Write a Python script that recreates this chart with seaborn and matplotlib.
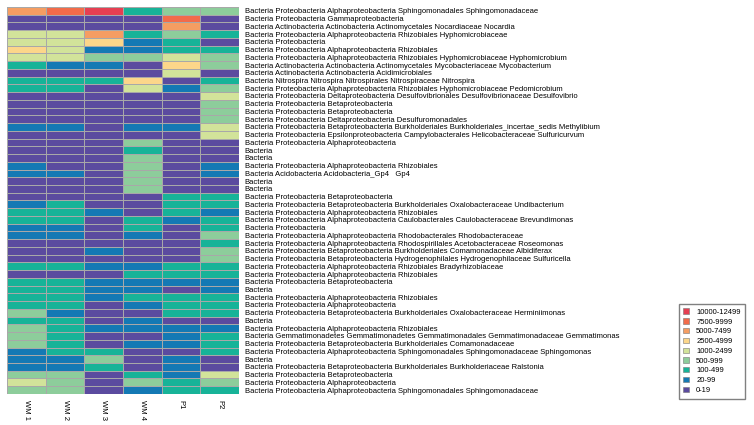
import numpy as np
import pandas as pd
import seaborn as sns
from matplotlib import pyplot as plt
from matplotlib.colors import ListedColormap
from matplotlib.patches import Patch

# bins: 0 = 0-19 ... 8 = 10000-12499
BINS = ['0-19', '20-99', '100-499', '500-999', '1000-2499',
        '2500-4999', '5000-7499', '7500-9999', '10000-12499']
COLORS = ['#5b4b9f', '#1479b4', '#17b398', '#8dcd9b', '#d2e39a',
          '#fcd68a', '#f59d62', '#f26b4a', '#e63f52']

SAMPLES = ['WM 1', 'WM 2', 'WM 3', 'WM 4', 'P1', 'P2']

TAXA = [
    'Bacteria Proteobacteria Alphaproteobacteria Sphingomonadales Sphingomonadaceae',
    'Bacteria Proteobacteria Gammaproteobacteria',
    'Bacteria Actinobacteria Actinobacteria Actinomycetales Nocardiaceae Nocardia',
    'Bacteria Proteobacteria Alphaproteobacteria Rhizobiales Hyphomicrobiaceae',
    'Bacteria Proteobacteria',
    'Bacteria Proteobacteria Alphaproteobacteria Rhizobiales',
    'Bacteria Proteobacteria Alphaproteobacteria Rhizobiales Hyphomicrobiaceae Hyphomicrobium',
    'Bacteria Actinobacteria Actinobacteria Actinomycetales Mycobacteriaceae Mycobacterium',
    'Bacteria Actinobacteria Actinobacteria Acidimicrobiales',
    'Bacteria Nitrospira Nitrospira Nitrospirales Nitrospiraceae Nitrospira',
    'Bacteria Proteobacteria Alphaproteobacteria Rhizobiales Hyphomicrobiaceae Pedomicrobium',
    'Bacteria Proteobacteria Deltaproteobacteria Desulfovibrionales Desulfovibrionaceae Desulfovibrio',
    'Bacteria Proteobacteria Betaproteobacteria',
    'Bacteria Proteobacteria Betaproteobacteria',
    'Bacteria Proteobacteria Deltaproteobacteria Desulfuromonadales',
    'Bacteria Proteobacteria Betaproteobacteria Burkholderiales Burkholderiales_incertae_sedis Methylibium',
    'Bacteria Proteobacteria Epsilonproteobacteria Campylobacterales Helicobacteraceae Sulfuricurvum',
    'Bacteria Proteobacteria Alphaproteobacteria',
    'Bacteria',
    'Bacteria',
    'Bacteria Proteobacteria Alphaproteobacteria Rhizobiales',
    'Bacteria Acidobacteria Acidobacteria_Gp4   Gp4',
    'Bacteria',
    'Bacteria',
    'Bacteria Proteobacteria Betaproteobacteria',
    'Bacteria Proteobacteria Betaproteobacteria Burkholderiales Oxalobacteraceae Undibacterium',
    'Bacteria Proteobacteria Alphaproteobacteria Rhizobiales',
    'Bacteria Proteobacteria Alphaproteobacteria Caulobacterales Caulobacteraceae Brevundimonas',
    'Bacteria Proteobacteria',
    'Bacteria Proteobacteria Alphaproteobacteria Rhodobacterales Rhodobacteraceae',
    'Bacteria Proteobacteria Alphaproteobacteria Rhodospirillales Acetobacteraceae Roseomonas',
    'Bacteria Proteobacteria Betaproteobacteria Burkholderiales Comamonadaceae Albidiferax',
    'Bacteria Proteobacteria Betaproteobacteria Hydrogenophilales Hydrogenophilaceae Sulfuricella',
    'Bacteria Proteobacteria Alphaproteobacteria Rhizobiales Bradyrhizobiaceae',
    'Bacteria Proteobacteria Alphaproteobacteria Rhizobiales',
    'Bacteria Proteobacteria Betaproteobacteria',
    'Bacteria',
    'Bacteria Proteobacteria Alphaproteobacteria Rhizobiales',
    'Bacteria Proteobacteria Alphaproteobacteria',
    'Bacteria Proteobacteria Betaproteobacteria Burkholderiales Oxalobacteraceae Herminiimonas',
    'Bacteria',
    'Bacteria Proteobacteria Alphaproteobacteria Rhizobiales',
    'Bacteria Gemmatimonadetes Gemmatimonadetes Gemmatimonadales Gemmatimonadaceae Gemmatimonas',
    'Bacteria Proteobacteria Betaproteobacteria Burkholderiales Comamonadaceae',
    'Bacteria Proteobacteria Alphaproteobacteria Sphingomonadales Sphingomonadaceae Sphingomonas',
    'Bacteria',
    'Bacteria Proteobacteria Betaproteobacteria Burkholderiales Burkholderiaceae Ralstonia',
    'Bacteria Proteobacteria Betaproteobacteria',
    'Bacteria Proteobacteria Alphaproteobacteria',
    'Bacteria Proteobacteria Alphaproteobacteria Sphingomonadales Sphingomonadaceae',
]

# abundance bin per taxon, one list per sample
WM1 = [6, 0, 0, 4, 4, 5, 4, 2, 0, 2, 2, 0, 0, 0, 0, 1, 0, 0, 0, 0, 1, 1, 0, 0, 0,
       1, 2, 2, 1, 1, 0, 0, 0, 2, 0, 2, 2, 2, 2, 3, 2, 3, 3, 3, 1, 1, 1, 3, 4, 3]
WM2 = [7, 0, 0, 4, 4, 4, 4, 1, 0, 2, 2, 0, 0, 0, 0, 1, 0, 0, 0, 0, 0, 1, 0, 0, 0,
       2, 2, 2, 1, 1, 0, 0, 0, 2, 0, 2, 2, 2, 2, 1, 2, 2, 2, 2, 2, 1, 1, 3, 3, 3]
WM3 = [8, 0, 0, 6, 5, 1, 3, 1, 0, 2, 0, 0, 0, 0, 0, 0, 0, 0, 0, 0, 0, 0, 0, 0, 0,
       0, 1, 0, 0, 0, 0, 1, 0, 1, 0, 1, 1, 1, 0, 0, 0, 1, 0, 0, 2, 3, 2, 0, 0, 0]
WM4 = [2, 0, 0, 2, 1, 1, 3, 0, 0, 5, 4, 0, 0, 0, 0, 1, 0, 3, 2, 3, 3, 3, 3, 3, 0,
       0, 0, 2, 2, 1, 0, 0, 0, 1, 2, 1, 1, 2, 1, 0, 1, 1, 0, 1, 0, 0, 0, 2, 3, 1]
P1 = [3, 7, 6, 3, 2, 2, 4, 5, 4, 0, 1, 0, 0, 0, 0, 1, 0, 0, 0, 0, 0, 0, 0, 0, 2,
      2, 2, 1, 0, 0, 0, 0, 0, 2, 2, 1, 0, 2, 2, 2, 0, 1, 1, 1, 0, 1, 1, 1, 2, 2]
P2 = [3, 0, 0, 2, 0, 2, 3, 3, 0, 2, 3, 4, 3, 3, 3, 4, 4, 0, 0, 0, 1, 1, 0, 0, 2,
      2, 1, 2, 2, 3, 2, 3, 3, 2, 2, 1, 1, 2, 2, 2, 0, 1, 2, 2, 2, 0, 0, 4, 3, 2]

levels = pd.DataFrame(np.array([WM1, WM2, WM3, WM4, P1, P2]).T,
                      columns=SAMPLES)

plt.rcParams['font.family'] = ['Liberation Sans', 'DejaVu Sans']

fig = plt.figure(figsize=(7.54, 4.25), dpi=100)
ax = fig.add_axes([0.0093, 0.073, 0.3077, 0.9106])

sns.heatmap(levels, ax=ax, cmap=ListedColormap(COLORS),
            vmin=-0.5, vmax=8.5, cbar=False,
            linewidths=0.5, linecolor='#a8a8a8')

ax.set_yticks(np.arange(len(TAXA)) + 0.5)
ax.set_yticklabels(TAXA, fontsize=5.5)
ax.yaxis.tick_right()
ax.tick_params(axis='y', length=0, pad=4, labelrotation=0)
ax.tick_params(axis='x', length=0, pad=4, labelsize=5.5)
plt.setp(ax.get_xticklabels(), rotation=-90)

handles = [Patch(facecolor=COLORS[i], edgecolor='#777777', linewidth=0.4,
                 label=BINS[i]) for i in range(len(BINS) - 1, -1, -1)]
fig.legend(handles=handles, loc='lower left', bbox_to_anchor=(0.9, 0.062),
           fontsize=5.5, frameon=True, fancybox=False, edgecolor='#808080',
           framealpha=1, handlelength=0.7, handleheight=0.7,
           labelspacing=0.32, borderpad=0.6, handletextpad=1.0,
           borderaxespad=0)

plt.savefig('out.png', dpi=100)
